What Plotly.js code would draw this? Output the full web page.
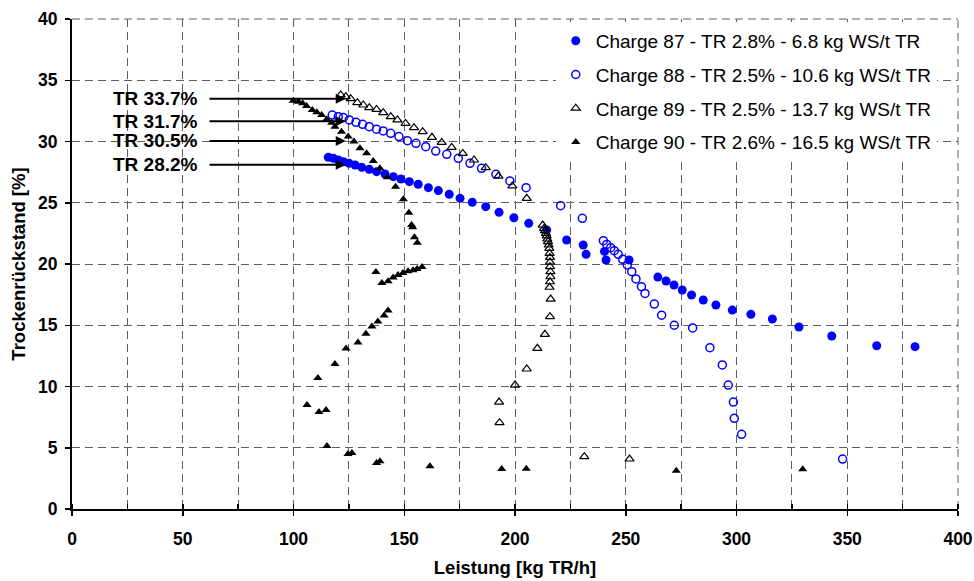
<!DOCTYPE html>
<html>
<head>
<meta charset="utf-8">
<script src="https://cdn.plot.ly/plotly-3.0.1.min.js"></script>
<style>
  html, body { margin: 0; padding: 0; background: #fff; }
  #chart { width: 974px; height: 581px; }
</style>
</head>
<body>
<div id="chart"></div>
<script>
// Leistung [kg TR/h] vs. Trockenrückstand [%] for four batches
const c87x = [115.7,118,120.2,122.5,125.1,127.8,130.8,134.2,137.5,141.3,145.1,148.5,152.3,156.3,160.9,165.4,170.3,175.2,180.7,186.8,192.8,199.5,206.2,214.3,223.3,230.8,232.1,240.4,241.1,251.5,264.5,268.2,271.8,275.5,279.7,285,290.7,298.1,306.5,316.2,328.2,343,363.3,380.6];
const c87y = [28.71,28.63,28.49,28.35,28.22,28.08,27.89,27.73,27.54,27.35,27.13,26.94,26.72,26.51,26.23,25.99,25.69,25.36,25.04,24.68,24.22,23.78,23.32,22.78,21.96,21.55,20.79,21.03,20.33,20.33,18.93,18.61,18.29,17.88,17.47,17.06,16.65,16.24,15.89,15.51,14.86,14.12,13.33,13.25];

const c88x = [117.5,120.2,122.5,125.2,128.2,131.2,134.2,137.5,140.5,143.9,147.6,151.4,155.3,159.7,164.2,169.2,174.4,179.7,184.9,191.4,197.7,205,220.6,230.4,239.9,241.4,243.2,244.8,246.6,248.6,250.7,252.7,254.6,257.1,258.7,262.9,266.2,271.9,280.2,288,293.6,296.3,298.6,299,302.3,347.9];
const c88y = [32.16,32.03,31.95,31.76,31.57,31.4,31.21,31.0,30.86,30.67,30.4,30.07,29.85,29.58,29.22,28.95,28.63,28.22,27.81,27.32,26.78,26.23,24.76,23.73,21.9,21.6,21.33,21.09,20.79,20.38,19.92,19.37,18.78,18.15,17.6,16.73,15.82,15.0,14.78,13.17,11.76,10.12,8.73,7.4,6.1,4.08];

const c89x = [121.3,123.6,125.8,128.8,131.5,134.2,137.5,140.5,143.9,146.9,150.6,154.4,158.3,162.5,166.9,171.4,176.4,181.5,186.8,192.5,198.8,205.3,212.5,213.1,213.5,214,214.3,214.6,214.9,215.2,215.5,215.6,215.8,215.8,215.8,216,216,215.8,215.6,216.1,215.8,213.5,210.1,205.3,200,192.8,193,231.3,251.7];
const c89y = [33.8,33.66,33.5,33.17,32.98,32.76,32.62,32.35,32.03,31.76,31.48,31.13,30.8,30.34,29.93,29.52,29.03,28.49,27.86,27.18,26.37,25.36,23.18,22.9,22.72,22.5,22.29,22.04,21.82,21.55,21.28,20.87,20.54,20.16,19.78,19.37,18.96,18.55,18.1,17.14,15.7,14.26,13.12,11.43,10.12,8.73,7.05,4.27,4.08];

const c90x = [99.9,102.2,104.1,105.9,108.5,110.5,112.7,115,117.2,118.7,121.7,124.7,127.3,130,133,136,139,142.4,146.1,149.6,152.1,153.3,153.8,154.6,155.9,158,155.8,154,151.7,149.4,147.2,145,142.7,139.9,137.2,142.7,140.9,138.1,135.4,132.7,129.1,123.7,118.7,111,106.1,111.5,114.7,115.1,124.6,126.4,137.5,139,161.6,194,205.1,272.8,329.9];
const c90y = [33.33,33.25,33.12,32.9,32.57,32.38,32.16,31.81,31.54,31.21,30.8,30.4,29.99,29.44,29.04,28.41,27.81,27.08,26.31,25.28,24.19,23.18,23.0,22.18,21.74,19.76,19.6,19.5,19.4,19.27,19.1,18.9,18.6,18.45,19.35,16.2,15.8,15.3,14.9,14.3,13.6,13.1,11.84,10.7,8.49,7.92,8.08,5.14,4.5,4.57,3.76,3.9,3.5,3.27,3.29,3.13,3.24];

const seriesNames = [
  'Charge 87 - TR 2.8% - 6.8 kg WS/t TR',
  'Charge 88 - TR 2.5% - 10.6 kg WS/t TR',
  'Charge 89 - TR 2.5% - 13.7 kg WS/t TR',
  'Charge 90 - TR 2.6% - 16.5 kg WS/t TR'
];

// Arrow labels: text and the level each arrow points at
const trLabels = ['TR 33.7%', 'TR 31.7%', 'TR 30.5%', 'TR 28.2%'];
const trArrowY = [33.5, 31.65, 30.05, 28.1];

const FONT = 'Liberation Sans, Arial, sans-serif';
const BLUE = '#0000ff';
const GRID = '#5e5e5e';

const traces = [
  { x: c87x, y: c87y, name: seriesNames[0], type: 'scatter', mode: 'markers', legendgroup: 'a',
    marker: { symbol: 'circle', size: 9, color: BLUE } },
  { x: c88x, y: c88y, name: seriesNames[1], type: 'scatter', mode: 'markers', legendgroup: 'b',
    marker: { symbol: 'circle-open', size: 8, color: BLUE, line: { width: 1.5, color: BLUE } } },
  { x: c89x, y: c89y, name: seriesNames[2], type: 'scatter', mode: 'markers', legendgroup: 'c',
    marker: { symbol: 'triangle-up-open', size: 8, color: '#000', line: { width: 1.2, color: '#000' } } },
  { x: c90x, y: c90y, name: seriesNames[3], type: 'scatter', mode: 'markers', legendgroup: 'd',
    marker: { symbol: 'triangle-up', size: 8, color: '#000' } }
];

const annotations = [];
trLabels.forEach((t, i) => {
  annotations.push({
    x: 57.6, y: trArrowY[i], xref: 'x', yref: 'y', text: '<b>' + t + '</b>',
    showarrow: false, xanchor: 'right', yanchor: 'middle',
    font: { family: FONT, size: 19, color: '#000' }
  });
  annotations.push({
    x: 123.6, y: trArrowY[i], ax: 61.4, ay: trArrowY[i], xref: 'x', yref: 'y', axref: 'x', ayref: 'y',
    text: '', showarrow: true, arrowhead: 2, arrowsize: 1, arrowwidth: 2, arrowcolor: '#000'
  });
});

const layout = {
  width: 974, height: 581,
  margin: { l: 72, r: 16, t: 19, b: 72 },
  paper_bgcolor: '#fff', plot_bgcolor: '#fff',
  font: { family: FONT, color: '#000' },
  showlegend: true,
  legend: {
    x: 0.546, y: 0.994, xanchor: 'left', yanchor: 'top',
    bgcolor: '#fff', borderwidth: 0,
    font: { family: FONT, size: 19, color: '#000' },
    traceorder: 'grouped', tracegroupgap: 6
  },
  xaxis: {
    range: [0, 400], dtick: 50, tick0: 0,
    showline: true, linecolor: '#000', linewidth: 2,
    ticks: 'outside', ticklen: 5, tickwidth: 1.5, tickcolor: '#000',
    ticklabelstandoff: 8,
    tickfont: { family: FONT, size: 17.5, color: '#000', weight: 'bold' },
    showgrid: true, gridcolor: GRID, gridwidth: 1, griddash: '8px,5px',
    minor: { dtick: 25, showgrid: true, gridcolor: GRID, gridwidth: 1, griddash: '8px,5px',
             ticks: 'inside', ticklen: 5, tickcolor: '#000' },
    zeroline: false, fixedrange: true,
    title: { text: '<b>Leistung [kg TR/h]</b>', font: { family: FONT, size: 18.5, color: '#000' }, standoff: 13 }
  },
  yaxis: {
    range: [0, 40], dtick: 5, tick0: 0,
    showline: true, linecolor: '#000', linewidth: 2,
    ticks: 'outside', ticklen: 5, tickwidth: 1.5, tickcolor: '#000',
    ticklabelstandoff: 4,
    tickfont: { family: FONT, size: 17.5, color: '#000', weight: 'bold' },
    showgrid: true, gridcolor: GRID, gridwidth: 1, griddash: '8px,5px',
    zeroline: false, fixedrange: true,
    title: { text: '<b>Trockenrückstand [%]</b>', font: { family: FONT, size: 18.5, color: '#000' }, standoff: 8 }
  },
  shapes: [
    { type: 'line', xref: 'paper', yref: 'paper', x0: 0, x1: 1, y0: 1, y1: 1,
      line: { color: GRID, width: 1, dash: '8px,5px' }, layer: 'below' },
    { type: 'line', xref: 'paper', yref: 'paper', x0: 1, x1: 1, y0: 0, y1: 1,
      line: { color: GRID, width: 1, dash: '8px,5px' }, layer: 'below' }
  ],
  annotations: annotations
};

Plotly.newPlot('chart', traces, layout, { displayModeBar: false, staticPlot: true });
</script>
</body>
</html>
